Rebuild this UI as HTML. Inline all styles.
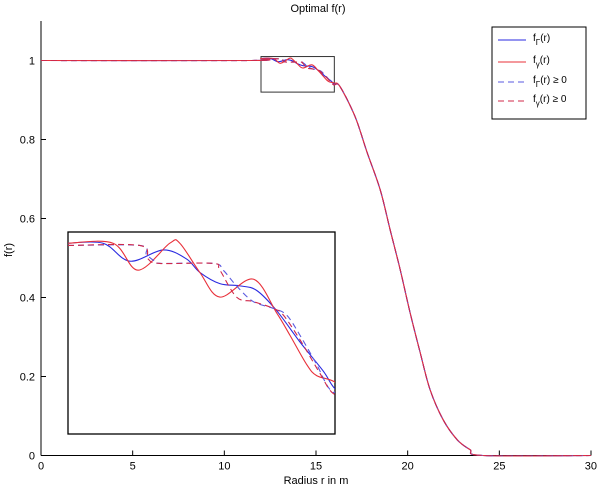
<!DOCTYPE html>
<html><head><meta charset="utf-8"><style>
html,body{margin:0;padding:0;background:#fff;width:600px;height:487px;overflow:hidden;}
svg{display:block;font-family:"Liberation Sans",sans-serif;}
</style></head><body>
<svg id="chart" width="600" height="487" viewBox="0 0 600 487">
<defs><clipPath id="ic"><rect x="68" y="232" width="267" height="202"/></clipPath></defs>
<text x="318" y="12" font-size="11" text-anchor="middle">Optimal f(r)</text>
<g id="axes"></g>
<g id="series"></g>
<g id="inset"></g>
<g id="legend"></g>
</svg>
<script>
const xTicks=[0,5,10,15,20,25,30];
const yTicks=[0,0.2,0.4,0.6,0.8,1];
const yTickLabels=["0","0.2","0.4","0.6","0.8","1"];
const headR=[0,11.5];
const headV=[1.0,1.0];
const tailR=[16.31,17.13,17.79,18.5,19.04,19.59,20.13,20.68,21.22,21.93,22.7,23.4,24.1,30];
const tailV=[0.934,0.858,0.767,0.673,0.572,0.471,0.362,0.261,0.167,0.091,0.04,0.015,0.0,0];
const blueR=[12,12.525,12.925,13.425,13.775,13.975,14.275,14.575,14.825,15.125,15.475,15.825,16.005];
const blueV=[1.005,1.005,0.997,1.002,0.998,0.992,0.987,0.986,0.984,0.975,0.961,0.948,0.940];
const redR=[12,12.675,13.05,13.525,13.675,13.975,14.275,14.775,15.125,15.325,15.575,15.725,16.005];
const redV=[1.005,1.005,0.993,1.005,1.005,0.992,0.981,0.989,0.974,0.964,0.951,0.946,0.943];
const blueDashR=[12,13.075,13.175,13.3,13.4,14.175,14.325,14.525,14.775,15.075,15.275,15.475,15.725,15.95];
const blueDashV=[1.004,1.004,1.0,0.997,0.996,0.996,0.993,0.986,0.979,0.976,0.973,0.964,0.951,0.939];
const redDashR=[12,13.075,13.2,13.375,14.175,14.275,14.525,14.775,15.075,15.225,15.475,15.775,15.975];
const redDashV=[1.004,1.004,0.998,0.996,0.996,0.993,0.981,0.979,0.976,0.973,0.962,0.947,0.938];
const zoomX=[12,16];
const zoomY=[0.92,1.01];
const legendLabels=[["Γ",""],["γ",""],["Γ"," ≥ 0"],["γ"," ≥ 0"]];

const NS="http://www.w3.org/2000/svg";
const X0=41,X1=591,Y0=455.5,Y1=21;
const xmax=30,ymax=1.1;
function sx(r){return X0+r/xmax*(X1-X0);}
function sy(v){return Y0-v/ymax*(Y0-Y1);}
const IX0=68,IX1=335,IY0=434,IY1=232;
function ix(r){return IX0+(r-zoomX[0])/(zoomX[1]-zoomX[0])*(IX1-IX0);}
function iy(v){return IY0-(v-zoomY[0])/(zoomY[1]-zoomY[0])*(IY0-IY1);}
function mk(tag,attrs,parent){const e=document.createElementNS(NS,tag);for(const k in attrs)e.setAttribute(k,attrs[k]);parent.appendChild(e);return e;}
function smooth(P){
  let d='M'+P[0][0].toFixed(2)+','+P[0][1].toFixed(2);
  for(let i=0;i<P.length-1;i++){
    const p0=P[i>0?i-1:i],p1=P[i],p2=P[i+1],p3=P[i+2<P.length?i+2:i+1];
    const c1x=p1[0]+(p2[0]-p0[0])/6,c1y=p1[1]+(p2[1]-p0[1])/6;
    const c2x=p2[0]-(p3[0]-p1[0])/6,c2y=p2[1]-(p3[1]-p1[1])/6;
    d+='C'+c1x.toFixed(2)+','+c1y.toFixed(2)+' '+c2x.toFixed(2)+','+c2y.toFixed(2)+' '+p2[0].toFixed(2)+','+p2[1].toFixed(2);
  }
  return d;
}

const axes=document.getElementById('axes');
let ax=mk('line',{x1:X0,y1:Y0,x2:X1,y2:Y0,stroke:'#000','stroke-width':1},axes);


let ay=mk('line',{x1:X0,y1:Y0,x2:X0,y2:Y1,stroke:'#000','stroke-width':1},axes);


xTicks.forEach(t=>{
  const l=mk('line',{x1:sx(t),y1:Y0,x2:sx(t),y2:Y0-5,stroke:'#000'},axes);
  
  
  const tx=mk('text',{x:sx(t),y:Y0+14,'font-size':11,'text-anchor':t===30?'end':'middle'},axes);
  if(t===30)tx.setAttribute('x',sx(t)+6);
  tx.textContent=String(t);
  
  
});
yTicks.forEach((t,i)=>{
  const l=mk('line',{x1:X0,y1:sy(t),x2:X0+5,y2:sy(t),stroke:'#000'},axes);
  
  
  const tx=mk('text',{x:X0-6,y:sy(t)+4,'font-size':11,'text-anchor':'end'},axes);
  tx.textContent=yTickLabels[i];
  
  
});
let xt=mk('text',{x:316,y:484,'font-size':11,'text-anchor':'middle'},axes);
xt.textContent='Radius r in m';


let yt=mk('text',{x:12,y:250,'font-size':11,'text-anchor':'middle',transform:'rotate(-90 12 250)'},axes);
yt.textContent='f(r)';



const seriesDefs=[
 {R:blueR,V:blueV,color:'#2a2ae0',dash:'',name:'series-f-Gamma'},
 {R:redR,V:redV,color:'#e8303a',dash:'',name:'series-f-gamma'},
 {R:blueDashR,V:blueDashV,color:'#5a5ae0',dash:'6,4',name:'series-f-Gamma-nonneg'},
 {R:redDashR,V:redDashV,color:'#d0284a',dash:'6,4',name:'series-f-gamma-nonneg'}
];
const sg=document.getElementById('series');
const ig=document.getElementById('inset');
let rect=mk('rect',{x:sx(zoomX[0]),y:sy(zoomY[1]),width:sx(zoomX[1])-sx(zoomX[0]),height:sy(zoomY[0])-sy(zoomY[1]),fill:'none',stroke:'#333'},sg);


let ib=mk('rect',{x:IX0,y:IY1,width:IX1-IX0,height:IY0-IY1,fill:'#fff',stroke:'#000','stroke-width':1.3},ig);


const ic=mk('g',{'clip-path':'url(#ic)'},ig);
seriesDefs.forEach(s=>{
  const R=headR.concat(s.R,tailR),V=headV.concat(s.V,tailV);
  const P=R.map((r,i)=>[sx(r),sy(V[i])]);
  const p=mk('path',{d:smooth(P),fill:'none',stroke:s.color,'stroke-width':1.1,'stroke-dasharray':s.dash},sg);
  
  
  const R2=s.R.concat(tailR.slice(0,2)),V2=s.V.concat(tailV.slice(0,2));
  const P2=R2.map((r,i)=>[ix(r),iy(V2[i])]);
  const q=mk('path',{d:smooth(P2),fill:'none',stroke:s.color,'stroke-width':1.1,'stroke-dasharray':s.dash},ic);
  
  
});

const lg=document.getElementById('legend');
mk('rect',{x:492,y:27,width:94,height:92,fill:'#fff',stroke:'#000'},lg);
const ly=[40,62,82,101];
seriesDefs.forEach((s,i)=>{
  const l=mk('line',{x1:498,y1:ly[i],x2:526,y2:ly[i],stroke:s.color,'stroke-width':1.1,'stroke-dasharray':s.dash},lg);
  
  
  const t=mk('text',{x:533,y:ly[i]+1,'font-size':10},lg);
  
  
  const a=document.createElementNS(NS,'tspan');a.textContent='f';t.appendChild(a);
  const b=document.createElementNS(NS,'tspan');b.setAttribute('dy','4');b.setAttribute('font-size','8');b.textContent=legendLabels[i][0];t.appendChild(b);
  const c=document.createElementNS(NS,'tspan');c.setAttribute('dy','-4');c.textContent='(r)'+legendLabels[i][1];t.appendChild(c);
});
</script>
</body></html>
